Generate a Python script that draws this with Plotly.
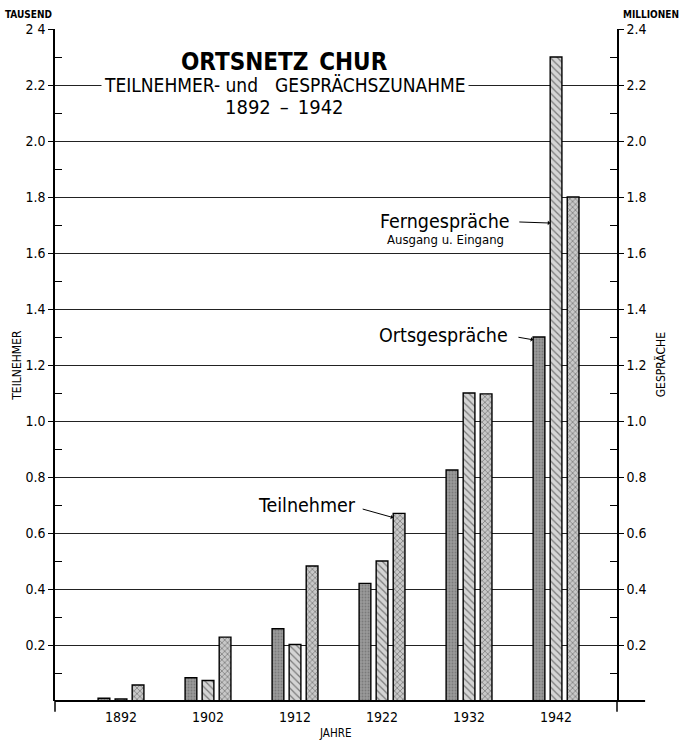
import plotly.graph_objects as go

years = [1892, 1902, 1912, 1922, 1932, 1942]
orts = [0.010, 0.083, 0.258, 0.420, 0.825, 1.300]      # Ortsgespräche (Millionen)
fern = [0.007, 0.073, 0.202, 0.500, 1.100, 2.300]      # Ferngespräche (Millionen)
teil = [0.057, 0.228, 0.482, 0.670, 1.097, 1.800]      # Teilnehmer (Tausend)
tick_vals = [0.2, 0.4, 0.6, 0.8, 1.0, 1.2, 1.4, 1.6, 1.8, 2.0, 2.2, 2.4]
tick_text = ["0.2", "0.4", "0.6", "0.8", "1.0", "1.2", "1.4", "1.6", "1.8", "2.0", "2.2", "2 4"]
tick_text_r = ["0.2", "0.4", "0.6", "0.8", "1.0", "1.2", "1.4", "1.6", "1.8", "2.0", "2.2", "2.4"]
minor_vals = [0.1, 0.3, 0.5, 0.7, 0.9, 1.1, 1.3, 1.5, 1.7, 1.9, 2.1, 2.3]

FONT = "DejaVu Sans Condensed, DejaVu Sans, Liberation Sans Narrow, sans-serif"
W = 1.35
OFF = [-2.64, -0.68, 1.28]

fig = go.Figure()
fig.add_trace(go.Bar(
    x=years, y=teil, yaxis="y", width=W, offset=OFF[2], name="Teilnehmer",
    marker=dict(color="#b5b5b5", line=dict(color="black", width=1.4),
                pattern=dict(shape="x", fgcolor="#303030", bgcolor="#c8c8c8", size=4, solidity=0.35)),
    showlegend=False))
fig.add_trace(go.Bar(
    x=years, y=orts, yaxis="y2", width=W, offset=OFF[0], name="Ortsgespräche",
    marker=dict(color="#8c8c8c", line=dict(color="black", width=1.4),
                pattern=dict(shape=".", fgcolor="#5a5a5a", bgcolor="#9a9a9a", size=3, solidity=0.3)),
    showlegend=False))
fig.add_trace(go.Bar(
    x=years, y=fern, yaxis="y2", width=W, offset=OFF[1], name="Ferngespräche",
    marker=dict(color="#d0d0d0", line=dict(color="black", width=1.4),
                pattern=dict(shape="\\", fgcolor="#222222", bgcolor="#d4d4d4", size=5, solidity=0.25)),
    showlegend=False))

axis_common = dict(
    range=[0, 2.4], tickmode="array", tickvals=tick_vals, automargin=False,
    ticks="outside", ticklen=5, tickcolor="black", tickwidth=1,
    showline=True, linecolor="black", linewidth=1.5, zeroline=False,
    tickfont=dict(family=FONT, size=14, color="black"),
    minor=dict(tickvals=minor_vals, ticks="inside", ticklen=7, tickcolor="black", tickwidth=1, showgrid=False),
)

fig.update_layout(
    width=681, height=745,
    margin=dict(l=55, r=64, t=29, b=44, autoexpand=False),
    paper_bgcolor="white", plot_bgcolor="white",
    barmode="overlay",
    font=dict(family=FONT, color="black"),
    xaxis=dict(range=[1884.41, 1949.0], tickmode="array", tickvals=years, automargin=False,
               ticktext=[str(y) for y in years], ticks="", showgrid=False,
               showline=False, zeroline=False, ticklabelstandoff=6,
               tickfont=dict(family=FONT, size=14, color="black")),
    yaxis=dict(**axis_common, ticktext=tick_text, side="left",
               showgrid=True, gridcolor="#222222", gridwidth=1),
    yaxis2=dict(**axis_common, ticktext=tick_text_r, side="right", overlaying="y",
                showgrid=False),
)

# baseline and axis extensions
fig.add_shape(type="line", xref="paper", yref="paper", x0=0, x1=1.05, y0=0, y1=0,
              line=dict(color="black", width=1.8))
for xp in (0, 1):
    fig.add_shape(type="line", xref="paper", yref="paper", x0=xp, x1=xp, y0=0, y1=-0.016,
                  line=dict(color="black", width=1.5))

C = dict(xanchor="center", yanchor="middle", showarrow=False)
ann = []
# titles
ann.append(dict(text="<b>ORTSNETZ\u2002CHUR</b>", xref="paper", yref="paper", x=0.409, y=0.951,
                font=dict(size=24, family=FONT), **C))
ann.append(dict(text="TEILNEHMER- und\u2003GESPRÄCHSZUNAHME", xref="paper", yref="y", x=0.409, y=2.2,
                font=dict(size=19, family=FONT), bgcolor="white", borderpad=2, **C))
ann.append(dict(text="1892\u2002–\u20021942", xref="paper", yref="paper", x=0.409, y=0.884,
                font=dict(size=20, family=FONT), **C))
# unit labels
ann.append(dict(text="<b>TAUSEND</b>", xref="paper", yref="paper", x=-0.048, y=1.022,
                font=dict(size=10, family=FONT), **C))
ann.append(dict(text="<b>MILLIONEN</b>", xref="paper", yref="paper", x=1.060, y=1.022,
                font=dict(size=10, family=FONT), **C))
ann.append(dict(text="TEILNEHMER", xref="paper", yref="paper", x=-0.068, y=0.5, textangle=-90,
                font=dict(size=12, family=FONT), **C))
ann.append(dict(text="GESPRÄCHE", xref="paper", yref="paper", x=1.077, y=0.5, textangle=-90,
                font=dict(size=12, family=FONT), **C))
ann.append(dict(text="JAHRE", xref="paper", yref="paper", x=0.498, y=-0.048,
                font=dict(size=11.5, family=FONT), **C))

# series labels with leader arrows
i42 = years.index(1942)
i22 = years.index(1922)
ann.append(dict(text="Ferngespräche", x=1942 - 12.76, y=1.711, xref="x", yref="y",
                font=dict(size=19.5, family=FONT), **C))
ann.append(dict(text="Ausgang u. Eingang", x=1942 - 12.76, y=1.648, xref="x", yref="y",
                font=dict(size=13, family=FONT), **C))
ann.append(dict(text="", x=years[i42] + OFF[1], y=fern[i42] - 0.593, xref="x", yref="y",
                ax=1942 - 4.4, ay=1.711, axref="x", ayref="y",
                showarrow=True, arrowhead=1, arrowsize=0.8, arrowwidth=1, arrowcolor="black"))
ann.append(dict(text="Ortsgespräche", x=1942 - 12.9, y=1.304, xref="x", yref="y",
                font=dict(size=19.5, family=FONT), **C))
ann.append(dict(text="", x=years[i42] + OFF[0], y=orts[i42] - 0.01, xref="x", yref="y",
                ax=1942 - 4.5, ay=1.30, axref="x", ayref="y",
                showarrow=True, arrowhead=1, arrowsize=0.8, arrowwidth=1, arrowcolor="black"))
ann.append(dict(text="Teilnehmer", x=1922 - 8.6, y=0.70, xref="x", yref="y",
                font=dict(size=19.5, family=FONT), **C))
ann.append(dict(text="", x=years[i22] + OFF[2], y=teil[i22] - 0.015, xref="x", yref="y",
                ax=1922 - 2.4, ay=0.687, axref="x", ayref="y",
                showarrow=True, arrowhead=1, arrowsize=0.8, arrowwidth=1, arrowcolor="black"))

fig.update_layout(annotations=ann)
fig.write_html("out.html", config={"displayModeBar": False},
               post_script="document.body.style.margin='0';")
